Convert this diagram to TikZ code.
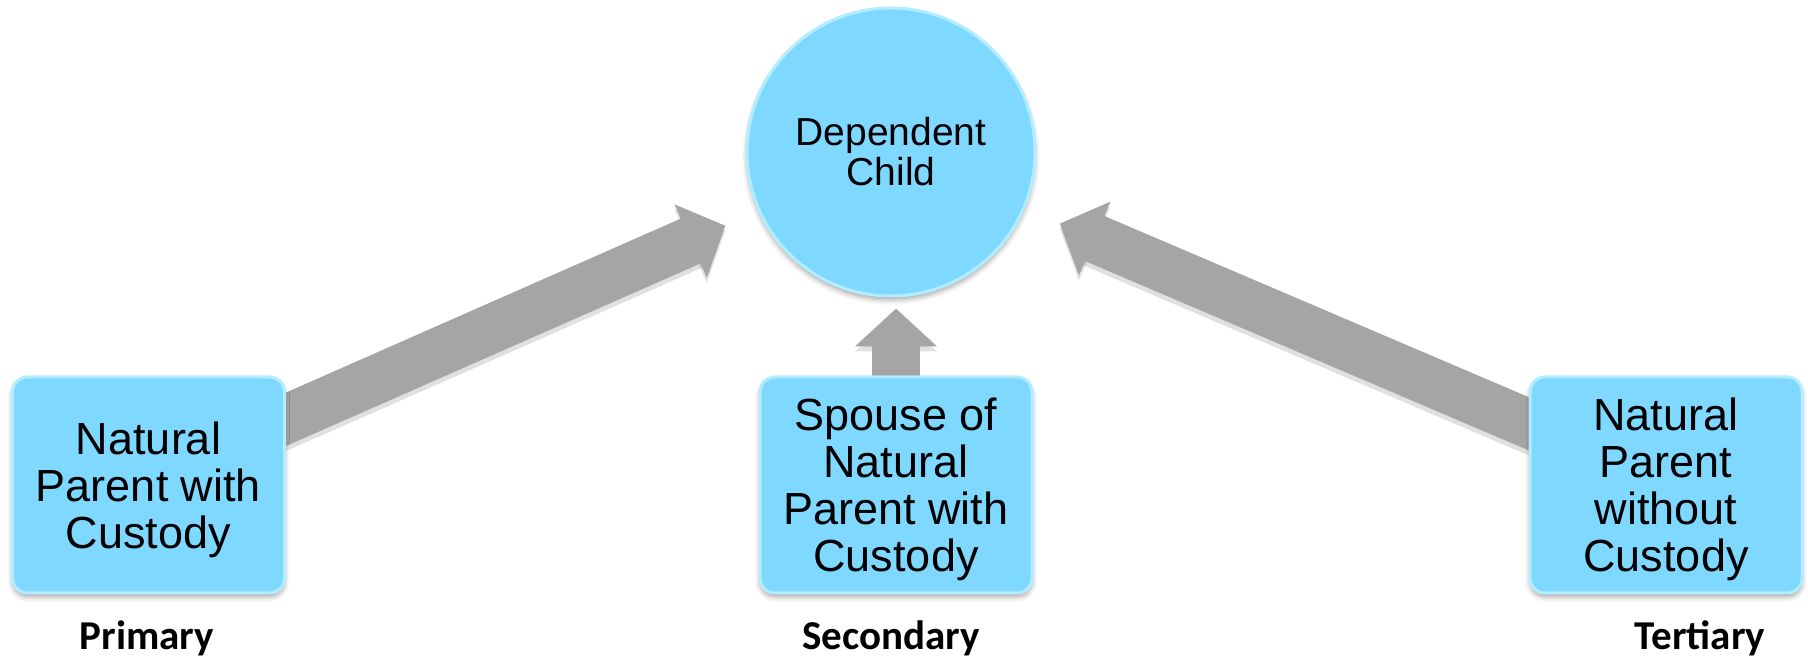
\documentclass[tikz,border=0pt]{standalone}
\usepackage{fontspec}
\setmainfont{Liberation Sans}
\newfontfamily\labelfont{Carlito}
\usetikzlibrary{arrows.meta,calc,shadows.blur}
\definecolor{boxblue}{RGB}{127,216,255}
\definecolor{boxedge}{RGB}{178,236,255}
\definecolor{arrowgray}{RGB}{165,165,165}
\pgfdeclarelayer{background}
\pgfsetlayers{background,main}
\newcommand{\boxlines}[1]{\raisebox{0pt}[\dimexpr\height+14pt\relax][\depth]{\begin{tabular}{@{}c@{}}#1\end{tabular}}}
\begin{document}
\begin{tikzpicture}[x=1pt,y=1pt,
  softshadow/.style={blur shadow={shadow xshift=0pt, shadow yshift=-4pt, shadow blur radius=5pt, shadow opacity=35}},
  rolebox/.style={rectangle, rounded corners=15pt, fill=boxblue, draw=boxedge, line width=3pt,
    minimum width=272pt, minimum height=216pt, inner sep=0pt, align=center,
    font=\fontsize{45}{47}\selectfont, softshadow},
  childnode/.style={circle, fill=boxblue, draw=boxedge, line width=3pt, minimum size=288pt,
    inner sep=0pt, align=center, font=\fontsize{39}{40}\selectfont, softshadow},
  levellabel/.style={font=\labelfont\bfseries\fontsize{41}{43}\selectfont, inner sep=0pt},
  bigarrow/.style={draw=arrowgray, line width=49pt, -{Triangle[length=38pt,width=78pt]}},
  arrowshadow/.style={draw=black, opacity=0.12, line width=49pt, -{Triangle[length=38pt,width=78pt]}, transform canvas={yshift=-5pt}}
]
\useasboundingbox (0,0) rectangle (1808,661);

\node[childnode] (child) at (891,509) {Dependent\\Child};
\node[rolebox] (lbox) at (148.5,176) {\boxlines{Natural\\Parent with\\Custody}};
\node[rolebox] (mbox) at (896,176) {\boxlines{Spouse of\\Natural\\Parent with\\Custody}};
\node[rolebox] (rbox) at (1666,176) {\boxlines{Natural\\Parent\\without\\Custody}};

\node[levellabel] (lprim) at (147,23) {Primary};
\node[levellabel] (lsec) at (891,23) {Secondary};
\node[levellabel] (lter) at (1700,23) {Tertiary};

\coordinate (la) at ($(lbox.north east)!0.2!(lbox.south east)$);
\coordinate (lt) at ($(child.center)!1.246!(child.204)$);
\coordinate (ra) at ($(rbox.north west)!0.22!(rbox.south west)$);
\coordinate (rt) at ($(child.center)!1.26!(child.337)$);
\coordinate (mt) at ($(mbox.center |- child.south)+(0,-11)$);

\begin{pgfonlayer}{background}
  \draw[arrowshadow] ($(la)!-40pt!(lt)$) -- (lt);
  \draw[arrowshadow] ($(ra)!-40pt!(rt)$) -- (rt);
  \draw[arrowshadow, line width=48pt, -{Triangle[length=38pt,width=80pt]}] (mbox.center) -- (mt);
  \draw[bigarrow] ($(la)!-40pt!(lt)$) -- (lt);
  \draw[bigarrow] ($(ra)!-40pt!(rt)$) -- (rt);
  \draw[bigarrow, line width=48pt, -{Triangle[length=38pt,width=80pt]}] (mbox.center) -- (mt);
\end{pgfonlayer}
\end{tikzpicture}
\end{document}
